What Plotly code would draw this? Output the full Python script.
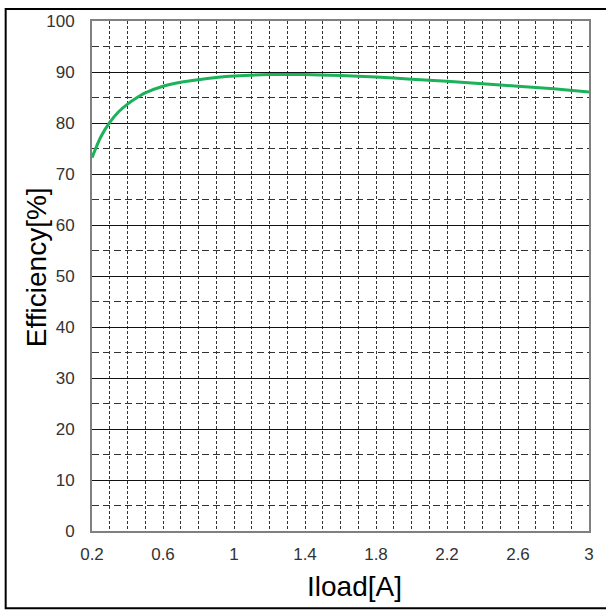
import plotly.graph_objects as go

# Efficiency curve
iload = [0.2, 0.25, 0.3, 0.35, 0.4, 0.45, 0.5, 0.6, 0.7, 0.8, 0.9, 1.0,
         1.2, 1.4, 1.6, 1.8, 2.0, 2.2, 2.4, 2.6, 2.8, 3.0]
efficiency = [73.2, 77.3, 80.1, 82.2, 83.7, 84.9, 85.9, 87.2, 88.0, 88.5, 88.9, 89.2,
              89.5, 89.5, 89.3, 89.0, 88.6, 88.2, 87.7, 87.2, 86.7, 86.1]

x_ticks = [0.2, 0.6, 1.0, 1.4, 1.8, 2.2, 2.6, 3.0]
x_tick_labels = ["0.2", "0.6", "1", "1.4", "1.8", "2.2", "2.6", "3"]
y_ticks = [0, 10, 20, 30, 40, 50, 60, 70, 80, 90, 100]

FONT = "Liberation Sans, Arial, sans-serif"
V_DASH = "3px,2px"   # fine dashes on the vertical grid
H_DASH = "7px,4px"   # longer dashes on the 5% lines

fig = go.Figure()
fig.add_trace(go.Scatter(
    x=iload, y=efficiency,
    mode='lines',
    line=dict(color='#1cb25a', width=3, shape='spline', smoothing=0.8),
    hoverinfo='skip',
    showlegend=False
))

fig.update_layout(
    width=606, height=610,
    paper_bgcolor='white',
    plot_bgcolor='white',
    margin=dict(l=92, r=13, t=16, b=79),
    xaxis=dict(
        range=[0.2, 3.0],
        tickvals=x_ticks, ticktext=x_tick_labels,
        showgrid=True, gridcolor='#333', gridwidth=1, griddash=V_DASH,
        zeroline=False,
        showline=True, linecolor='#808080', linewidth=2, mirror=True,
        ticks='outside', ticklen=7, tickcolor='rgba(0,0,0,0)',
        tickfont=dict(family=FONT, size=17, color='#333'),
        minor=dict(dtick=0.1, tick0=0.2, showgrid=True, gridcolor='#333',
                   gridwidth=1, griddash=V_DASH),
    ),
    yaxis=dict(
        range=[0, 100],
        tickvals=y_ticks,
        showgrid=True, gridcolor='#111', gridwidth=1,
        zeroline=False,
        showline=True, linecolor='#808080', linewidth=2, mirror=True,
        ticks='outside', ticklen=12, tickcolor='rgba(0,0,0,0)',
        tickfont=dict(family=FONT, size=17, color='#333'),
        minor=dict(dtick=5, tick0=0, showgrid=True, gridcolor='#333',
                   gridwidth=1, griddash=H_DASH),
    ),
    annotations=[
        dict(text="Iload[A]", xref='paper', yref='paper', x=0.528, y=-0.108,
             xanchor='center', yanchor='middle', showarrow=False,
             font=dict(family=FONT, size=28, color='black')),
        dict(text="Efficiency[%]", xref='paper', yref='paper', x=-0.113, y=0.517,
             xanchor='center', yanchor='middle', showarrow=False, textangle=-90,
             font=dict(family=FONT, size=28, color='black')),
    ],
    shapes=[
        # outer frame around the whole picture
        dict(type='rect', xref='paper', yref='paper',
             x0=-0.1737, x1=1.04, y0=-0.1515, y1=1.0233,
             line=dict(color='black', width=2), layer='below'),
    ],
)

fig.write_html("out.html", config={'displayModeBar': False},
               post_script="document.body.style.margin='0';")
